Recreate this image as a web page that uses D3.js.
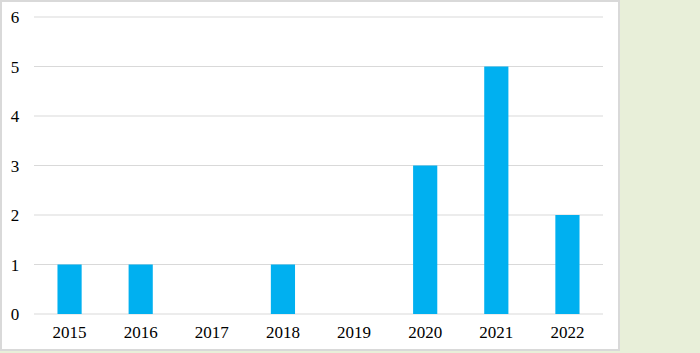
<!DOCTYPE html>
<head>
<meta charset="utf-8">
<style>
body{
    margin:0;
    width:700px;
    height:353px;
    background:#e8efd9;
    overflow:hidden;
}
svg text{
    font-family:"Liberation Serif","Times New Roman",serif;
    font-size:17px;
    fill:#000;
}
</style>
<title>Count by year</title>
</head>
<body>
<svg width="700" height="353"></svg>
<script src="https://d3js.org/d3.v7.min.js"></script>
<script>
var years = ['2015','2016','2017','2018','2019','2020','2021','2022'];
var counts = [1, 1, 0, 1, 0, 3, 5, 2];
var yTicks = [0, 1, 2, 3, 4, 5, 6];

var svg = d3.select("svg");

// white chart panel with grey frame
svg.append("rect")
    .attr("x", 1).attr("y", 1)
    .attr("width", 618).attr("height", 349)
    .attr("fill", "#fff")
    .attr("stroke", "#d9d9d9")
    .attr("stroke-width", 2);

var x = d3.scaleBand().domain(years).range([34, 603]).paddingInner(0.66).paddingOuter(0.33);
var y = d3.scaleLinear().domain([0, 6]).range([314, 17]);

// gridlines
svg.append("g").selectAll("line").data(yTicks).enter().append("line")
    .attr("x1", 34).attr("x2", 603)
    .attr("y1", function(d){ return y(d); })
    .attr("y2", function(d){ return y(d); })
    .attr("stroke", "#d9d9d9")
    .attr("stroke-width", 1);

// y labels
svg.append("g").selectAll("text").data(yTicks).enter().append("text")
    .attr("x", 15)
    .attr("y", function(d){ return y(d) + 6; })
    .attr("text-anchor", "middle")
    .text(function(d){ return d; });

// bars
svg.append("g").selectAll("rect").data(years).enter().append("rect")
    .attr("x", function(d){ return x(d); })
    .attr("width", x.bandwidth())
    .attr("y", function(d, i){ return y(counts[i]); })
    .attr("height", function(d, i){ return y(0) - y(counts[i]); })
    .attr("fill", "#00b0f0");

// x labels
svg.append("g").selectAll("text").data(years).enter().append("text")
    .attr("x", function(d){ return x(d) + x.bandwidth() / 2; })
    .attr("y", 338)
    .attr("text-anchor", "middle")
    .text(function(d){ return d; });
</script>
</body>
